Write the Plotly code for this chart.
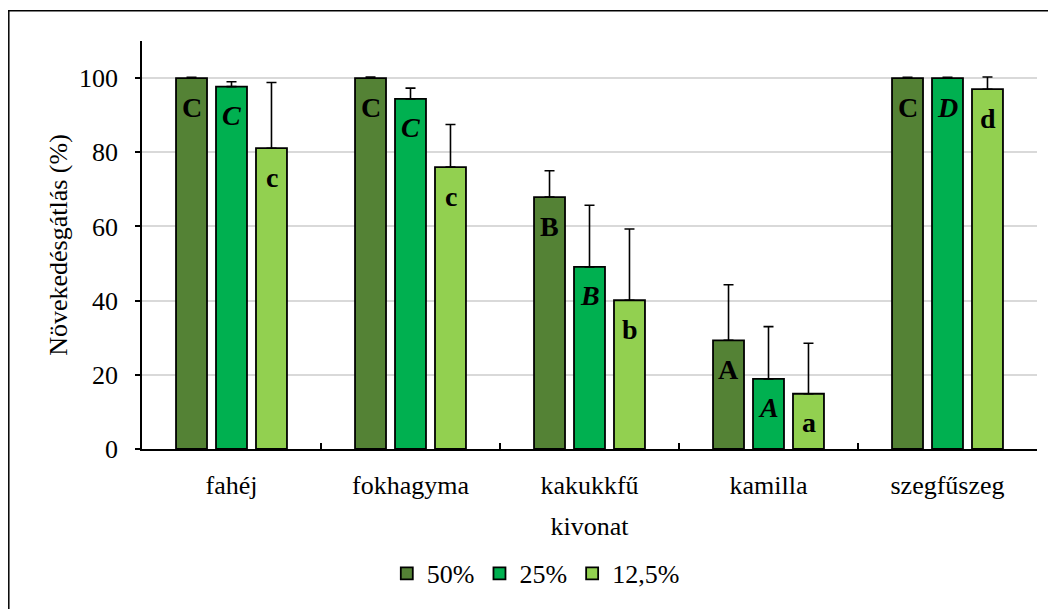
import plotly.graph_objects as go

categories = ["fahéj", "fokhagyma", "kakukkfű", "kamilla", "szegfűszeg"]
series_names = ["50%", "25%", "12,5%"]
values_50 = [100, 100, 67.9, 29.3, 100]
values_25 = [97.7, 94.4, 49.1, 18.9, 100]
values_125 = [81.1, 76.0, 40.1, 14.9, 97.0]
err_50 = [0.2, 0.3, 7.1, 15.0, 0.2]
err_25 = [1.3, 2.9, 16.6, 14.1, 0.2]
err_125 = [17.7, 11.5, 19.2, 13.6, 3.3]
letters_50 = ["C", "C", "B", "A", "C"]
letters_25 = ["C", "C", "B", "A", "D"]
letters_125 = ["c", "c", "b", "a", "d"]
y_ticks = [0, 20, 40, 60, 80, 100]

colors = ["#548235", "#00B050", "#92D050"]
FONT = "Liberation Serif, Times New Roman, serif"

fig = go.Figure()
all_vals = [values_50, values_25, values_125]
all_errs = [err_50, err_25, err_125]
for name, vals, errs, col in zip(series_names, all_vals, all_errs, colors):
    fig.add_trace(go.Bar(
        x=categories, y=vals, name=name,
        marker=dict(color=col, line=dict(color="black", width=1.8)),
        error_y=dict(type="data", symmetric=False, array=errs,
                     arrayminus=[0] * len(errs), color="black",
                     thickness=1.6, width=5),
    ))

shifts = [-40, 0, 40]
for vals, lets, sh, ital in zip(all_vals, [letters_50, letters_25, letters_125], shifts, [False, True, False]):
    for c, v, l in zip(categories, vals, lets):
        txt = f"<b><i>{l}</i></b>" if ital else f"<b>{l}</b>"
        fig.add_annotation(x=c, y=v, text=txt, showarrow=False, xshift=sh, yshift=-29,
                           font=dict(family=FONT, size=28, color="black"))

# figure canvas is offset by the 8px page margin; plot area: x 134..1029, y 33..446 (figure px)
L, T, W, H = 134, 33, 895, 413
def px(x):
    return (x - L) / W
def py(y):
    return (T + H - y) / H
fig.add_shape(type="line", xref="paper", yref="paper", x0=px(0), x1=px(1060), y0=py(2.5), y1=py(2.5),
              line=dict(color="black", width=1.5))
fig.add_shape(type="line", xref="paper", yref="paper", x0=px(0.8), x1=px(0.8), y0=py(2), y1=py(610),
              line=dict(color="black", width=1.5))

fig.update_layout(
    width=1048, height=601,
    margin=dict(l=134, r=19, t=33, b=155),
    plot_bgcolor="white", paper_bgcolor="white",
    barmode="group", bargap=0.33, bargroupgap=0.225,
    font=dict(family=FONT, size=26, color="black"),
    showlegend=True,
    legend=dict(orientation="h", x=0.44, xanchor="center", y=-0.305, yanchor="middle",
                font=dict(family=FONT, size=26), itemwidth=30, traceorder="normal",
                tracegroupgap=0),
)
fig.update_xaxes(
    showline=True, linecolor="black", linewidth=1.5,
    ticks="inside", tickson="boundaries", ticklen=6, tickcolor="black", tickwidth=1.5,
    tickfont=dict(family=FONT, size=26), ticklabelstandoff=12,
    title=dict(text="kivonat", font=dict(family=FONT, size=26), standoff=18),
    mirror=False,
)
fig.update_yaxes(
    range=[0, 110], tickvals=y_ticks,
    showline=True, linecolor="black", linewidth=1.5,
    ticks="outside", ticklen=5, tickcolor="black", tickwidth=1.5,
    showgrid=True, gridcolor="#d9d9d9", gridwidth=1.5,
    tickfont=dict(family=FONT, size=26), ticklabelstandoff=12,
    title=dict(text="Növekedésgátlás (%)", font=dict(family=FONT, size=26), standoff=4),
    zeroline=False,
)

fig.write_html("out.html")
